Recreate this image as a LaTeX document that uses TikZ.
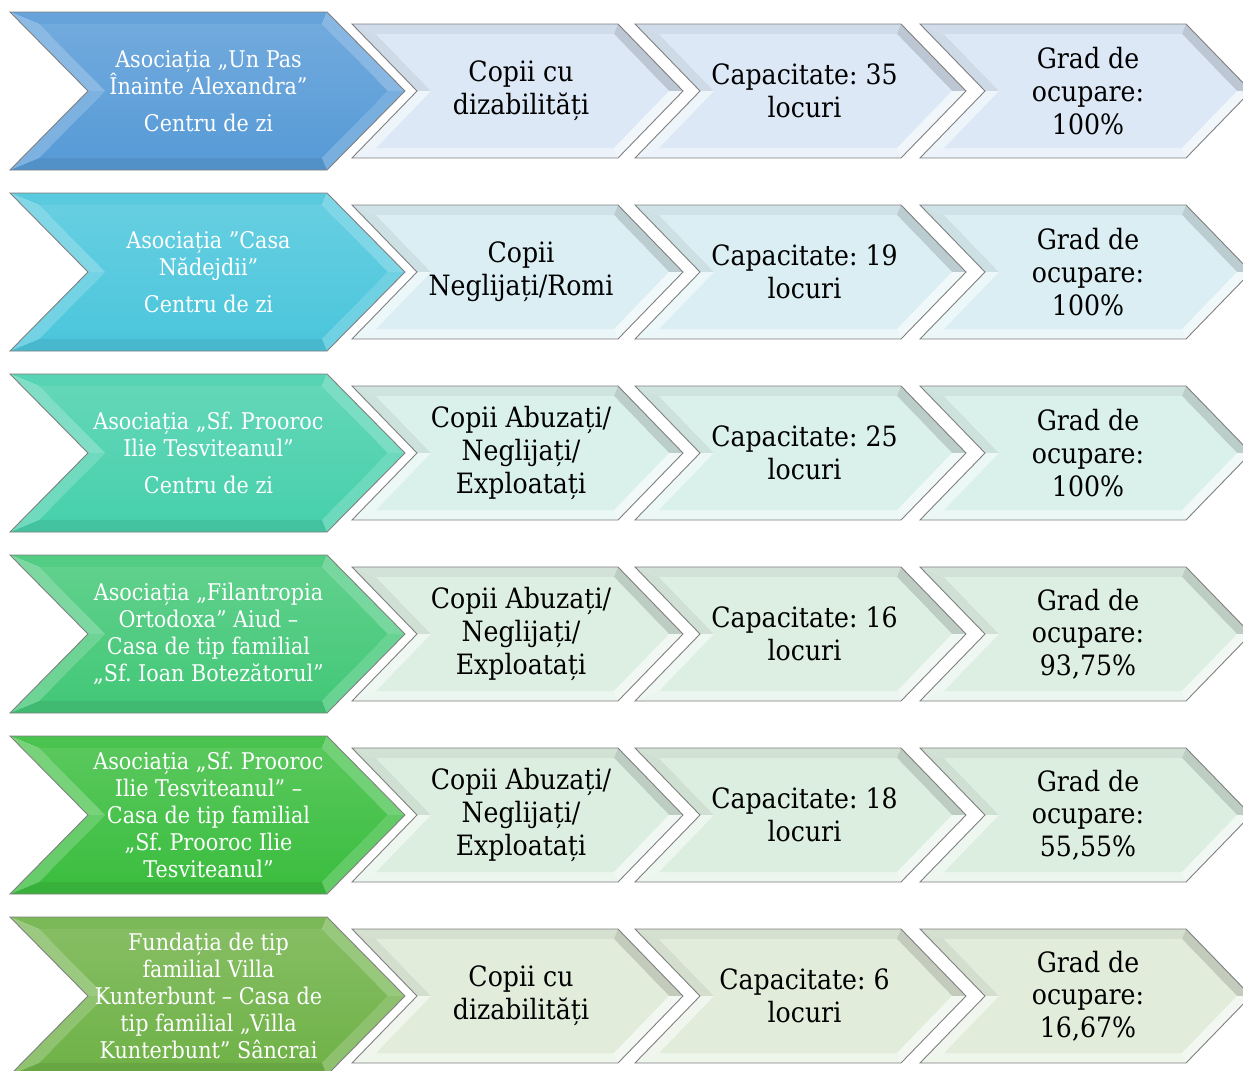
\documentclass[tikz,border=0pt]{standalone}
\usepackage{fontspec}
\setmainfont{DejaVu Serif}[FakeStretch=0.9]
\definecolor{bA}{RGB}{88,155,215}
\definecolor{bB}{RGB}{76,198,220}
\definecolor{bC}{RGB}{72,208,172}
\definecolor{bD}{RGB}{68,200,120}
\definecolor{bE}{RGB}{60,190,64}
\definecolor{bF}{RGB}{112,178,72}
\definecolor{sA}{RGB}{220,232,246}
\definecolor{sB}{RGB}{218,238,243}
\definecolor{sC}{RGB}{218,240,235}
\definecolor{sD}{RGB}{221,238,227}
\definecolor{sE}{RGB}{220,238,224}
\definecolor{sF}{RGB}{225,236,219}
% outer and inner corner points of a chevron: L, c, half height, top width, depth, inset
\newcommand\chevpts[6]{%
 \coordinate (oTL) at (#1,{#2-#3});
 \coordinate (oTR) at ({#1+#4},{#2-#3});
 \coordinate (oT)  at ({#1+#4+#5},#2);
 \coordinate (oBR) at ({#1+#4},{#2+#3});
 \coordinate (oBL) at (#1,{#2+#3});
 \coordinate (oN)  at ({#1+#5},#2);
 \coordinate (iTL) at ({#1+2.41*#6},{#2-#3+#6});
 \coordinate (iTR) at ({#1+#4-0.41*#6},{#2-#3+#6});
 \coordinate (iT)  at ({#1+#4+#5-1.41*#6},#2);
 \coordinate (iBR) at ({#1+#4-0.41*#6},{#2+#3-#6});
 \coordinate (iBL) at ({#1+2.41*#6},{#2+#3-#6});
 \coordinate (iN)  at ({#1+#5+1.41*#6},#2);
}
% main, top, left-up, left-low, right-up, right-low, bottom, inner top
\newcommand\chevfill[8]{%
 \fill[#2] (oTL)--(oTR)--(iTR)--(iTL)--cycle;
 \fill[#3] (oTL)--(oN)--(iN)--(iTL)--cycle;
 \fill[#4] (oN)--(oBL)--(iBL)--(iN)--cycle;
 \fill[#5] (oTR)--(oT)--(iT)--(iTR)--cycle;
 \fill[#6] (oT)--(oBR)--(iBR)--(iT)--cycle;
 \fill[#7] (oBL)--(oBR)--(iBR)--(iBL)--cycle;
 \shade[top color=#8, bottom color=#1] (iTL)--(iTR)--(iT)--(iBR)--(iBL)--(iN)--cycle;
 \draw[black!50, line width=0.9pt, line join=miter] (oTL)--(oTR)--(oT)--(oBR)--(oBL)--(oN)--cycle;
}
\newcommand\bigchev[2]{%
 \chevpts{10}{#1}{79}{317}{78}{12}%
 \chevfill{#2}{#2!92!white}{#2!70!white}{#2!78!white}{#2!72!white}{#2!80!white}{#2!93!black}{#2!85!white}%
}
\newcommand\smallchev[3]{%
 \chevpts{#1}{#2}{67}{266}{65}{10}%
 \chevfill{#3}{#3!95!black}{#3!94!black}{#3!50!white}{#3!86!black}{#3!40!white}{#3!55!white}{#3}%
}
\tikzset{
 bigtxt/.style={text=white, align=center, inner sep=0pt, font=\fontsize{23}{27}\selectfont},
 smalltxt/.style={text=black, align=center, inner sep=0pt, font=\fontsize{28}{32.7}\selectfont},
}
\begin{document}
\frenchspacing
\begin{tikzpicture}[x=1pt,y=-1pt]
\useasboundingbox (0,0) rectangle (1243,1071);
\clip (0,0) rectangle (1243,1071);
\fill[white] (0,0) rectangle (1243,1071);
% shapes
\foreach \c/\bc/\sc in {91/bA/sA,272/bB/sB,453/bC/sC,634/bD/sD,815/bE/sE,996/bF/sF}{
 \smallchev{352}{\c}{\sc}
 \smallchev{635}{\c}{\sc}
 \smallchev{920}{\c}{\sc}
 \bigchev{\c}{\bc}
}
% row 1
\node[bigtxt] (a1) at (208.5,91) {Asociația „Un Pas\\Înainte Alexandra”\\[10pt]Centru de zi};
\node[smalltxt] (b1) at (521,91) {Copii cu\\dizabilități};
\node[smalltxt] (c1) at (804.5,91) {Capacitate: 35\\locuri};
\node[smalltxt] (d1) at (1088,91) {Grad de\\ocupare:\\100\%};
% row 2
\node[bigtxt] (a2) at (208.5,272) {Asociația ”Casa\\Nădejdii”\\[10pt]Centru de zi};
\node[smalltxt] (b2) at (521,272) {Copii\\Neglijați/Romi};
\node[smalltxt] (c2) at (804.5,272) {Capacitate: 19\\locuri};
\node[smalltxt] (d2) at (1088,272) {Grad de\\ocupare:\\100\%};
% row 3
\node[bigtxt] (a3) at (208.5,453) {Asociația „Sf. Prooroc\\Ilie Tesviteanul”\\[10pt]Centru de zi};
\node[smalltxt] (b3) at (521,453) {Copii Abuzați/\\Neglijați/\\Exploatați};
\node[smalltxt] (c3) at (804.5,453) {Capacitate: 25\\locuri};
\node[smalltxt] (d3) at (1088,453) {Grad de\\ocupare:\\100\%};
% row 4
\node[bigtxt] (a4) at (208.5,634) {Asociația „Filantropia\\Ortodoxa” Aiud –\\Casa de tip familial\\„Sf. Ioan Botezătorul”};
\node[smalltxt] (b4) at (521,634) {Copii Abuzați/\\Neglijați/\\Exploatați};
\node[smalltxt] (c4) at (804.5,634) {Capacitate: 16\\locuri};
\node[smalltxt] (d4) at (1088,634) {Grad de\\ocupare:\\93,75\%};
% row 5
\node[bigtxt] (a5) at (208.5,815) {Asociația „Sf. Prooroc\\Ilie Tesviteanul” –\\Casa de tip familial\\„Sf. Prooroc Ilie\\Tesviteanul”};
\node[smalltxt] (b5) at (521,815) {Copii Abuzați/\\Neglijați/\\Exploatați};
\node[smalltxt] (c5) at (804.5,815) {Capacitate: 18\\locuri};
\node[smalltxt] (d5) at (1088,815) {Grad de\\ocupare:\\55,55\%};
% row 6
\node[bigtxt] (a6) at (208.5,996) {Fundația de tip\\familial Villa\\Kunterbunt – Casa de\\tip familial „Villa\\Kunterbunt” Sâncrai};
\node[smalltxt] (b6) at (521,996) {Copii cu\\dizabilități};
\node[smalltxt] (c6) at (804.5,996) {Capacitate: 6\\locuri};
\node[smalltxt] (d6) at (1088,996) {Grad de\\ocupare:\\16,67\%};
\end{tikzpicture}
\end{document}
